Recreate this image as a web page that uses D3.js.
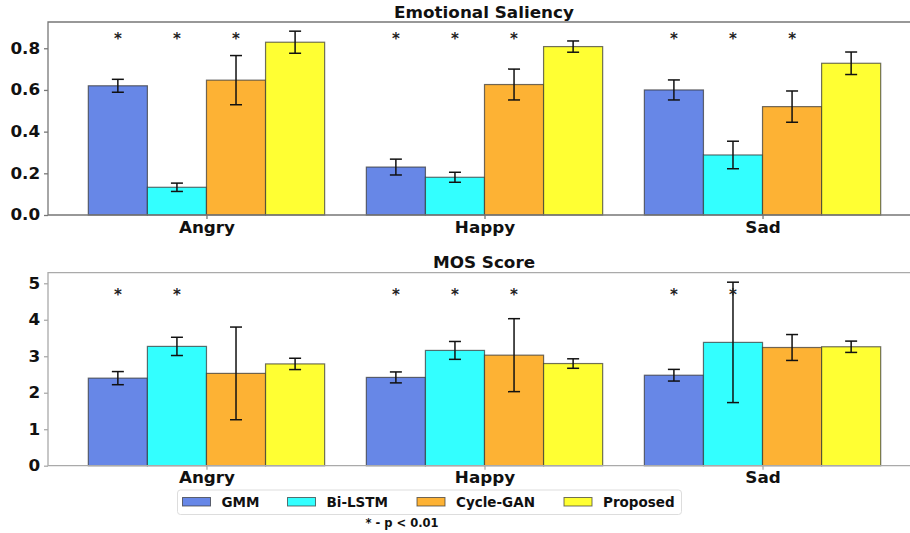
<!DOCTYPE html>
<html>
<head>
<meta charset="utf-8">
<script src="https://cdn.jsdelivr.net/npm/d3@7"></script>
<style>
  body { margin: 0; background: #fff; }
  svg { display: block; font-family: "DejaVu Sans", sans-serif; font-weight: bold; }
</style>
</head>
<body>
<svg id="chart" width="910" height="533"></svg>
<script>
// emotion categories and methods
var categories = ["Angry", "Happy", "Sad"];
var methods = ["GMM", "Bi-LSTM", "Cycle-GAN", "Proposed"];
var colors = ["#6787e7", "#33ffff", "#fdb234", "#ffff33"];

// emotional saliency, rows = method, cols = category
var salMean = [[0.62, 0.23, 0.60], [0.133, 0.181, 0.288], [0.647, 0.626, 0.52], [0.829, 0.808, 0.728]];
var salErr = [[0.031, 0.038, 0.048], [0.02, 0.024, 0.066], [0.118, 0.074, 0.075], [0.053, 0.027, 0.054]];
var salStars = [[1, 1, 1], [1, 1, 1], [1, 1, 1], [0, 0, 0]];
var salTicks = [0.0, 0.2, 0.4, 0.6, 0.8];

// MOS score
var mosMean = [[2.40, 2.42, 2.48], [3.27, 3.16, 3.38], [2.53, 3.03, 3.24], [2.79, 2.80, 3.26]];
var mosErr = [[0.18, 0.15, 0.16], [0.25, 0.245, 1.65], [1.27, 1.0, 0.355], [0.155, 0.13, 0.155]];
var mosStars = [[1, 1, 1], [1, 1, 1], [0, 1, 0], [0, 0, 0]];
var mosTicks = [0, 1, 2, 3, 4, 5];

var svg = d3.select("#chart");
var stretch = "scale(1.12,1)"; // source figure text is a bit wide

// shared x layout: group centers at 0,1,2
var x = d3.scaleLinear().domain([-0.57, 2.57]).range([48, 921]);
var xin = d3.scaleBand().domain(methods).range([-0.425, 0.425]);
var bw = x(xin.bandwidth()) - x(0);

function panel(opt) {
  var y = d3.scaleLinear().domain(opt.domain).range([opt.bottom, opt.top]);
  var g = svg.append("g");

  // bars
  methods.forEach(function(m, mi) {
    categories.forEach(function(c, ci) {
      var cx = x(ci + xin(m));
      var v = opt.mean[mi][ci];
      g.append("rect")
        .attr("x", cx).attr("y", y(v))
        .attr("width", bw).attr("height", y(0) - y(v))
        .attr("fill", colors[mi])
        .attr("stroke", "#333").attr("stroke-opacity", 0.7).attr("stroke-width", 1.2);
    });
  });

  // error bars
  methods.forEach(function(m, mi) {
    categories.forEach(function(c, ci) {
      var mx = x(ci + xin(m)) + bw / 2;
      var v = opt.mean[mi][ci], e = opt.err[mi][ci];
      var eg = g.append("g").attr("stroke", "#111").attr("stroke-width", 1.5);
      eg.append("line").attr("x1", mx).attr("x2", mx).attr("y1", y(v - e)).attr("y2", y(v + e));
      [v - e, v + e].forEach(function(t) {
        eg.append("line").attr("x1", mx - 6).attr("x2", mx + 6).attr("y1", y(t)).attr("y2", y(t));
      });
    });
  });

  // significance stars
  methods.forEach(function(m, mi) {
    categories.forEach(function(c, ci) {
      if (!opt.stars[mi][ci]) return;
      g.append("text")
        .attr("x", x(ci + xin(m)) + bw / 2)
        .attr("y", y(opt.starAt) + 8)
        .attr("text-anchor", "middle")
        .attr("font-size", 15).attr("fill", "#222")
        .text("*");
    });
  });

  // spines
  g.append("path")
    .attr("d", "M" + x.range()[1] + "," + opt.top + "H48V" + opt.bottom + "H" + x.range()[1])
    .attr("fill", "none").attr("stroke", opt.spine).attr("stroke-width", 1.3);

  // y axis
  var ya = g.append("g").attr("transform", "translate(48,0)")
    .call(d3.axisLeft(y).tickValues(opt.ticks).tickFormat(opt.fmt).tickSize(4).tickPadding(3));
  ya.select(".domain").remove();
  ya.selectAll("line").attr("stroke", opt.spine).attr("stroke-width", 1.3);
  ya.selectAll("text").attr("font-size", 15).attr("font-family", "DejaVu Sans").attr("font-weight", "bold")
    .attr("fill", "#111").attr("transform", stretch);

  // x axis
  var xa = g.append("g").attr("transform", "translate(0," + opt.bottom + ")")
    .call(d3.axisBottom(x).tickValues([0, 1, 2]).tickFormat(function(d) { return categories[d]; }).tickSize(4).tickPadding(3));
  xa.select(".domain").remove();
  xa.selectAll("line").attr("stroke", opt.spine).attr("stroke-width", 1.3);
  xa.selectAll("text").attr("font-size", 15).attr("font-family", "DejaVu Sans").attr("font-weight", "bold")
    .attr("fill", "#111").attr("transform", stretch);

  // title
  g.append("text")
    .attr("transform", "translate(484," + (opt.top - 4.5) + ")" + stretch)
    .attr("text-anchor", "middle").attr("font-size", 15).attr("fill", "#111")
    .text(opt.title);
}

panel({ title: "Emotional Saliency", domain: [0, 0.926], top: 22, bottom: 215,
        mean: salMean, err: salErr, stars: salStars, starAt: 0.861,
        ticks: salTicks, fmt: d3.format(".1f"), spine: "#777" });

panel({ title: "MOS Score", domain: [0, 5.29], top: 272.7, bottom: 465.7,
        mean: mosMean, err: mosErr, stars: mosStars, starAt: 4.75,
        ticks: mosTicks, fmt: d3.format("d"), spine: "#aaa" });

// legend
var leg = svg.append("g");
leg.append("rect").attr("x", 177.5).attr("y", 490).attr("width", 504).attr("height", 24.5)
  .attr("rx", 3).attr("fill", "#fff").attr("stroke", "#ddd");
var legX = [182.5, 287.5, 417, 564];
methods.forEach(function(m, i) {
  leg.append("rect").attr("x", legX[i]).attr("y", 497.5).attr("width", 28).attr("height", 8.5)
    .attr("fill", colors[i]).attr("stroke", "#333").attr("stroke-opacity", 0.7);
  leg.append("text").attr("x", legX[i] + 39).attr("y", 506.5).attr("font-size", 13.5).attr("fill", "#111").text(m);
});
svg.append("text").attr("x", 402).attr("y", 527).attr("text-anchor", "middle")
  .attr("font-size", 11.5).attr("fill", "#111").text("* - p < 0.01");
</script>
</body>
</html>
